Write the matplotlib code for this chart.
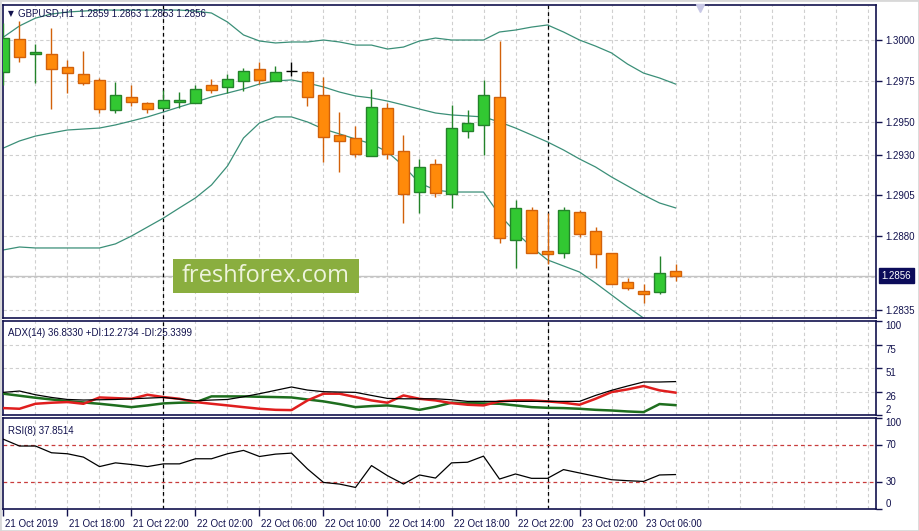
import matplotlib
matplotlib.use('Agg')
import matplotlib.pyplot as plt
import matplotlib.transforms as mtransforms
from matplotlib.patches import Rectangle

# hourly bars from 21 Oct 14:00 to 23 Oct 08:00
opens = [1.29806, 1.30006, 1.29913, 1.29913, 1.29835, 1.29790, 1.29754, 1.29570, 1.29650, 1.29615,
         1.29586, 1.29619, 1.29617, 1.29723, 1.29711, 1.29751, 1.29821, 1.29751, 1.29809, 1.29803,
         1.29664, 1.29418, 1.29399, 1.29289, 1.29583, 1.29322, 1.29069, 1.29240, 1.29057, 1.29446,
         1.29479, 1.29650, 1.28776, 1.28959, 1.28709, 1.28697, 1.28947, 1.28831, 1.28697, 1.28519,
         1.28466, 1.28458, 1.28590]
highs = [1.30104, 1.30116, 1.29976, 1.30071, 1.29878, 1.29935, 1.29770, 1.29742, 1.29725, 1.29621,
         1.29694, 1.29680, 1.29725, 1.29762, 1.29790, 1.29827, 1.29867, 1.29841, 1.29864, 1.29811,
         1.29774, 1.29562, 1.29476, 1.29701, 1.29617, 1.29420, 1.29273, 1.29273, 1.29603, 1.29570,
         1.29754, 1.29994, 1.29022, 1.28980, 1.28945, 1.28980, 1.28961, 1.28859, 1.28697, 1.28547,
         1.28507, 1.28682, 1.28630]
lows = [1.29725, 1.29867, 1.29739, 1.29578, 1.29678, 1.29725, 1.29556, 1.29552, 1.29597, 1.29552,
        1.29578, 1.29586, 1.29615, 1.29678, 1.29674, 1.29688, 1.29729, 1.29751, 1.29782, 1.29599,
        1.29256, 1.29195, 1.29287, 1.29289, 1.29273, 1.28880, 1.28941, 1.29039, 1.28972, 1.29399,
        1.29299, 1.28758, 1.28605, 1.28697, 1.28629, 1.28666, 1.28798, 1.28605, 1.28507, 1.28472,
        1.28395, 1.28446, 1.28530]
closes = [1.30010, 1.29898, 1.29925, 1.29821, 1.29800, 1.29739, 1.29580, 1.29662, 1.29619, 1.29580,
          1.29632, 1.29632, 1.29699, 1.29696, 1.29760, 1.29809, 1.29757, 1.29803, 1.29809, 1.29650,
          1.29409, 1.29385, 1.29302, 1.29589, 1.29305, 1.29057, 1.29226, 1.29067, 1.29460, 1.29491,
          1.29662, 1.28788, 1.28972, 1.28697, 1.28691, 1.28959, 1.28816, 1.28691, 1.28507, 1.28486,
          1.28446, 1.28574, 1.28560]

bb_upper = [1.30018, 1.30086, 1.30134, 1.30159, 1.30171, 1.30177, 1.30183, 1.30183, 1.30183, 1.30183,
            1.30183, 1.30183, 1.30177, 1.30165, 1.30110, 1.30031, 1.29994, 1.29982, 1.29988, 1.29988,
            1.30000, 1.29988, 1.29969, 1.29969, 1.29945, 1.29957, 1.29994, 1.30012, 1.30000, 1.30000,
            1.30000, 1.30049, 1.30061, 1.30079, 1.30092, 1.30049, 1.30000, 1.29963, 1.29921, 1.29853,
            1.29798, 1.29768, 1.29731]
bb_mid = [1.29340, 1.29383, 1.29413, 1.29432, 1.29450, 1.29456, 1.29462, 1.29481, 1.29505, 1.29530,
          1.29560, 1.29591, 1.29621, 1.29652, 1.29676, 1.29701, 1.29731, 1.29750, 1.29756, 1.29737,
          1.29713, 1.29682, 1.29658, 1.29646, 1.29627, 1.29603, 1.29578, 1.29554, 1.29542, 1.29536,
          1.29530, 1.29499, 1.29462, 1.29420, 1.29377, 1.29328, 1.29273, 1.29224, 1.29163, 1.29108,
          1.29053, 1.29004, 1.28974]
bb_lower = [1.28717, 1.28735, 1.28729, 1.28729, 1.28729, 1.28729, 1.28729, 1.28754, 1.28802, 1.28857,
            1.28912, 1.28974, 1.29035, 1.29114, 1.29230, 1.29401, 1.29493, 1.29530, 1.29530, 1.29499,
            1.29456, 1.29426, 1.29395, 1.29365, 1.29316, 1.29230, 1.29126, 1.29083, 1.29071, 1.29071,
            1.29071, 1.28931, 1.28827, 1.28735, 1.28656, 1.28619, 1.28582, 1.28515, 1.28442, 1.28369,
            1.28301, 1.28228, 1.28167]

adx = [25.6, 27.0, 23.1, 20.3, 18.2, 17.6, 17.9, 18.2, 18.9, 19.6,
       20.3, 18.6, 16.9, 17.6, 18.2, 21.0, 24.2, 27.7, 31.2, 28.0,
       26.3, 25.9, 25.6, 22.4, 19.3, 18.9, 18.9, 18.9, 17.9, 16.2,
       16.2, 16.2, 16.2, 16.2, 16.2, 16.2, 16.2, 22.4, 27.7, 32.2,
       36.4, 36.4, 36.83]
plus_di = [24.2, 22.1, 20.0, 18.2, 16.5, 15.1, 13.7, 12.0, 10.2, 12.0,
           14.1, 14.8, 15.1, 21.4, 21.4, 21.4, 21.0, 20.7, 20.3, 18.2,
           16.2, 13.4, 10.2, 11.3, 12.0, 10.2, 7.4, 10.6, 14.8, 14.4,
           14.1, 13.7, 12.0, 10.2, 9.5, 9.2, 8.5, 7.4, 6.7, 5.7,
           5.0, 13.4, 12.27]
minus_di = [9.2, 8.5, 13.7, 14.8, 15.5, 13.7, 20.3, 19.6, 18.9, 23.1,
            20.7, 18.9, 15.5, 13.7, 12.0, 10.2, 8.5, 7.4, 7.1, 17.2,
            24.2, 24.2, 20.7, 17.2, 14.8, 22.4, 18.9, 17.2, 14.4, 12.7,
            12.0, 16.2, 17.2, 17.2, 16.2, 14.8, 12.7, 18.9, 25.9, 28.7,
            32.2, 27.7, 25.34]
rsi = [76.6, 69.2, 69.2, 61.8, 60.7, 57.0, 46.6, 50.7, 48.9, 46.6,
       49.6, 49.6, 55.2, 55.2, 60.7, 64.4, 57.7, 60.3, 61.4, 44.0,
       29.2, 27.4, 23.7, 47.7, 36.6, 27.4, 37.4, 34.0, 50.7, 51.4,
       58.1, 32.9, 38.5, 33.7, 33.7, 43.3, 39.6, 35.9, 32.2, 31.1,
       30.3, 37.4, 37.85]

time_labels = ['21 Oct 2019', '21 Oct 18:00', '21 Oct 22:00', '22 Oct 02:00', '22 Oct 06:00',
               '22 Oct 10:00', '22 Oct 14:00', '22 Oct 18:00', '22 Oct 22:00', '23 Oct 02:00',
               '23 Oct 06:00']
price_ticks = [1.3000, 1.2975, 1.2950, 1.2930, 1.2905, 1.2880, 1.2835]
last_price = 1.2856

NAVY = '#12124e'
GRID = '#cfcfcf'
BAND = '#3b8f78'
plt.rcParams['font.family'] = ['Liberation Sans', 'DejaVu Sans']
plt.rcParams['font.size'] = 7

W, H = 919, 531
fig = plt.figure(figsize=(W / 100, H / 100), dpi=100)
fig.patch.set_facecolor('white')


def box(x0, y0, x1, y1):
    return [x0 / W, 1 - y1 / H, (x1 - x0) / W, (y1 - y0) / H]


ax = fig.add_axes(box(3, 5, 876, 318))
ax_adx = fig.add_axes(box(3, 321, 876, 415), sharex=ax)
ax_rsi = fig.add_axes(box(3, 418, 876, 509), sharex=ax)

n = len(opens)
xs = list(range(n))

for a in (ax, ax_adx, ax_rsi):
    a.set_facecolor('white')
    for s in a.spines.values():
        s.set_color(NAVY)
        s.set_linewidth(1.2)
    a.yaxis.tick_right()
    a.tick_params(axis='y', colors=NAVY, length=4, width=1, pad=3, labelsize=7)
    a.tick_params(axis='x', length=0)
    for gx in range(2, 55, 2):
        a.axvline(gx, color=GRID, lw=0.8, ls=(0, (3, 2.5)), zorder=0)
    for sep in (10, 34):
        a.axvline(sep, color='black', lw=0.9, ls=(0, (3, 2.5)), zorder=1)

ax.set_xlim(-0.03, 54.53)

# --- price panel
ax.set_ylim(1.28301, 1.30214)
ax.set_yticks(price_ticks)
ax.set_yticklabels([f'{p:.4f}' for p in price_ticks])
for p in price_ticks + [1.2855]:
    ax.axhline(p, color=GRID, lw=0.8, ls=(0, (3, 2.5)), zorder=0)
ax.axhline(last_price, color='#c4c4c4', lw=1, zorder=0.5)

ax.plot(xs, bb_upper, color=BAND, lw=0.9, zorder=2)
ax.plot(xs, bb_mid, color=BAND, lw=0.9, zorder=2)
ax.plot(xs, bb_lower, color=BAND, lw=0.9, zorder=2)

for i in range(n):
    o, h, l, c = opens[i], highs[i], lows[i], closes[i]
    if o == c:
        ax.vlines(i, l, h, color='black', lw=1, zorder=3)
        ax.hlines(o, i - 0.35, i + 0.35, color='black', lw=1, zorder=3)
        continue
    if c > o:
        fill, edge = '#32c832', '#23832a'
    else:
        fill, edge = '#ff8a0a', '#d2610a'
    ax.vlines(i, l, h, color=edge, lw=1, zorder=3)
    ax.bar(i, abs(c - o), bottom=min(o, c), width=0.66, color=fill,
           edgecolor=edge, lw=1, zorder=4)

ax.annotate(f'{last_price:.4f}', xy=(1.0, last_price),
            xycoords=mtransforms.blended_transform_factory(ax.transAxes, ax.transData),
            xytext=(4, 0), textcoords='offset points', va='center', ha='left',
            color='white', fontsize=7,
            bbox=dict(boxstyle='square,pad=0.25', fc='#0c0c5a', ec='#0c0c5a'))

ax.text(0.006, 0.972, '\u25bc', transform=ax.transAxes, fontsize=5.5,
        color=NAVY, va='center', family=['DejaVu Sans'])
ax.text(0.017, 0.972, 'GBPUSD,H1  1.2859 1.2863 1.2853 1.2856',
        transform=ax.transAxes, fontsize=7, color=NAVY, va='center')
ax.plot([43.5], [1.30196], marker='v', ms=6, color='#c8c8e6', clip_on=False, zorder=5)

# watermark
fig.patches.append(Rectangle((173 / W, 1 - 293 / H), 186 / W, 34 / H,
                             transform=fig.transFigure, fc='#8aae3f', ec='none', zorder=5))
fig.text(266 / W, 1 - 276.5 / H, 'freshforex.com', ha='center', va='center',
         fontsize=17, color='#eef4dc', family=['Open Sans', 'DejaVu Sans'], zorder=6)

# --- ADX panel
ax_adx.set_ylim(2, 100)
ax_adx.set_yticks([100, 75, 51, 26, 2])
ax_adx.set_yticklabels(['100', '75', '51', '26', '2'])
for lab in ax_adx.get_yticklabels():
    lab.set_va('bottom' if lab.get_text() == '2' else 'top')
for lv in (75, 51, 26):
    ax_adx.axhline(lv, color=GRID, lw=0.8, ls=(0, (3, 2.5)), zorder=0)
ax_adx.plot(xs, plus_di, color='#1e6e1e', lw=1.8, zorder=3)
ax_adx.plot(xs, minus_di, color='#e01e1e', lw=1.8, zorder=3)
ax_adx.plot(xs, adx, color='black', lw=0.9, zorder=4)
ax_adx.text(0.006, 0.87, 'ADX(14) 36.8330 +DI:12.2734 -DI:25.3399',
            transform=ax_adx.transAxes, fontsize=7, color=NAVY, va='center')

# --- RSI panel
ax_rsi.set_ylim(0, 100)
ax_rsi.set_yticks([100, 70, 30, 0])
ax_rsi.set_yticklabels(['100', '70', '30', '0'])
for lab in ax_rsi.get_yticklabels():
    t = lab.get_text()
    lab.set_va('top' if t == '100' else ('bottom' if t == '0' else 'center'))
for lv in (70, 30):
    ax_rsi.axhline(lv, color='#c83c3c', lw=0.9, ls=(0, (3, 2.5)), zorder=1)
ax_rsi.plot(xs, rsi, color='black', lw=0.9, zorder=3)
ax_rsi.text(0.006, 0.86, 'RSI(8) 37.8514', transform=ax_rsi.transAxes,
            fontsize=7, color=NAVY, va='center')

for a in (ax, ax_adx):
    plt.setp(a.get_xticklabels(), visible=False)

tick_pos = list(range(0, 41, 4))
ax_rsi.set_xticks(tick_pos)
ax_rsi.set_xticklabels(time_labels, ha='left', color=NAVY, fontsize=7)
ax_rsi.tick_params(axis='x', length=5, width=1, color=NAVY, direction='out', pad=2)
offset = mtransforms.ScaledTranslation(2 / 100, 0, fig.dpi_scale_trans)
for lab in ax_rsi.get_xticklabels():
    lab.set_transform(lab.get_transform() + offset)

# outer frame
fig.patches.append(Rectangle((0, 0), 1, 1, transform=fig.transFigure, fill=False,
                             ec='#d8d8d8', lw=2, zorder=0))

fig.savefig('out.png', dpi=100, facecolor='white')
